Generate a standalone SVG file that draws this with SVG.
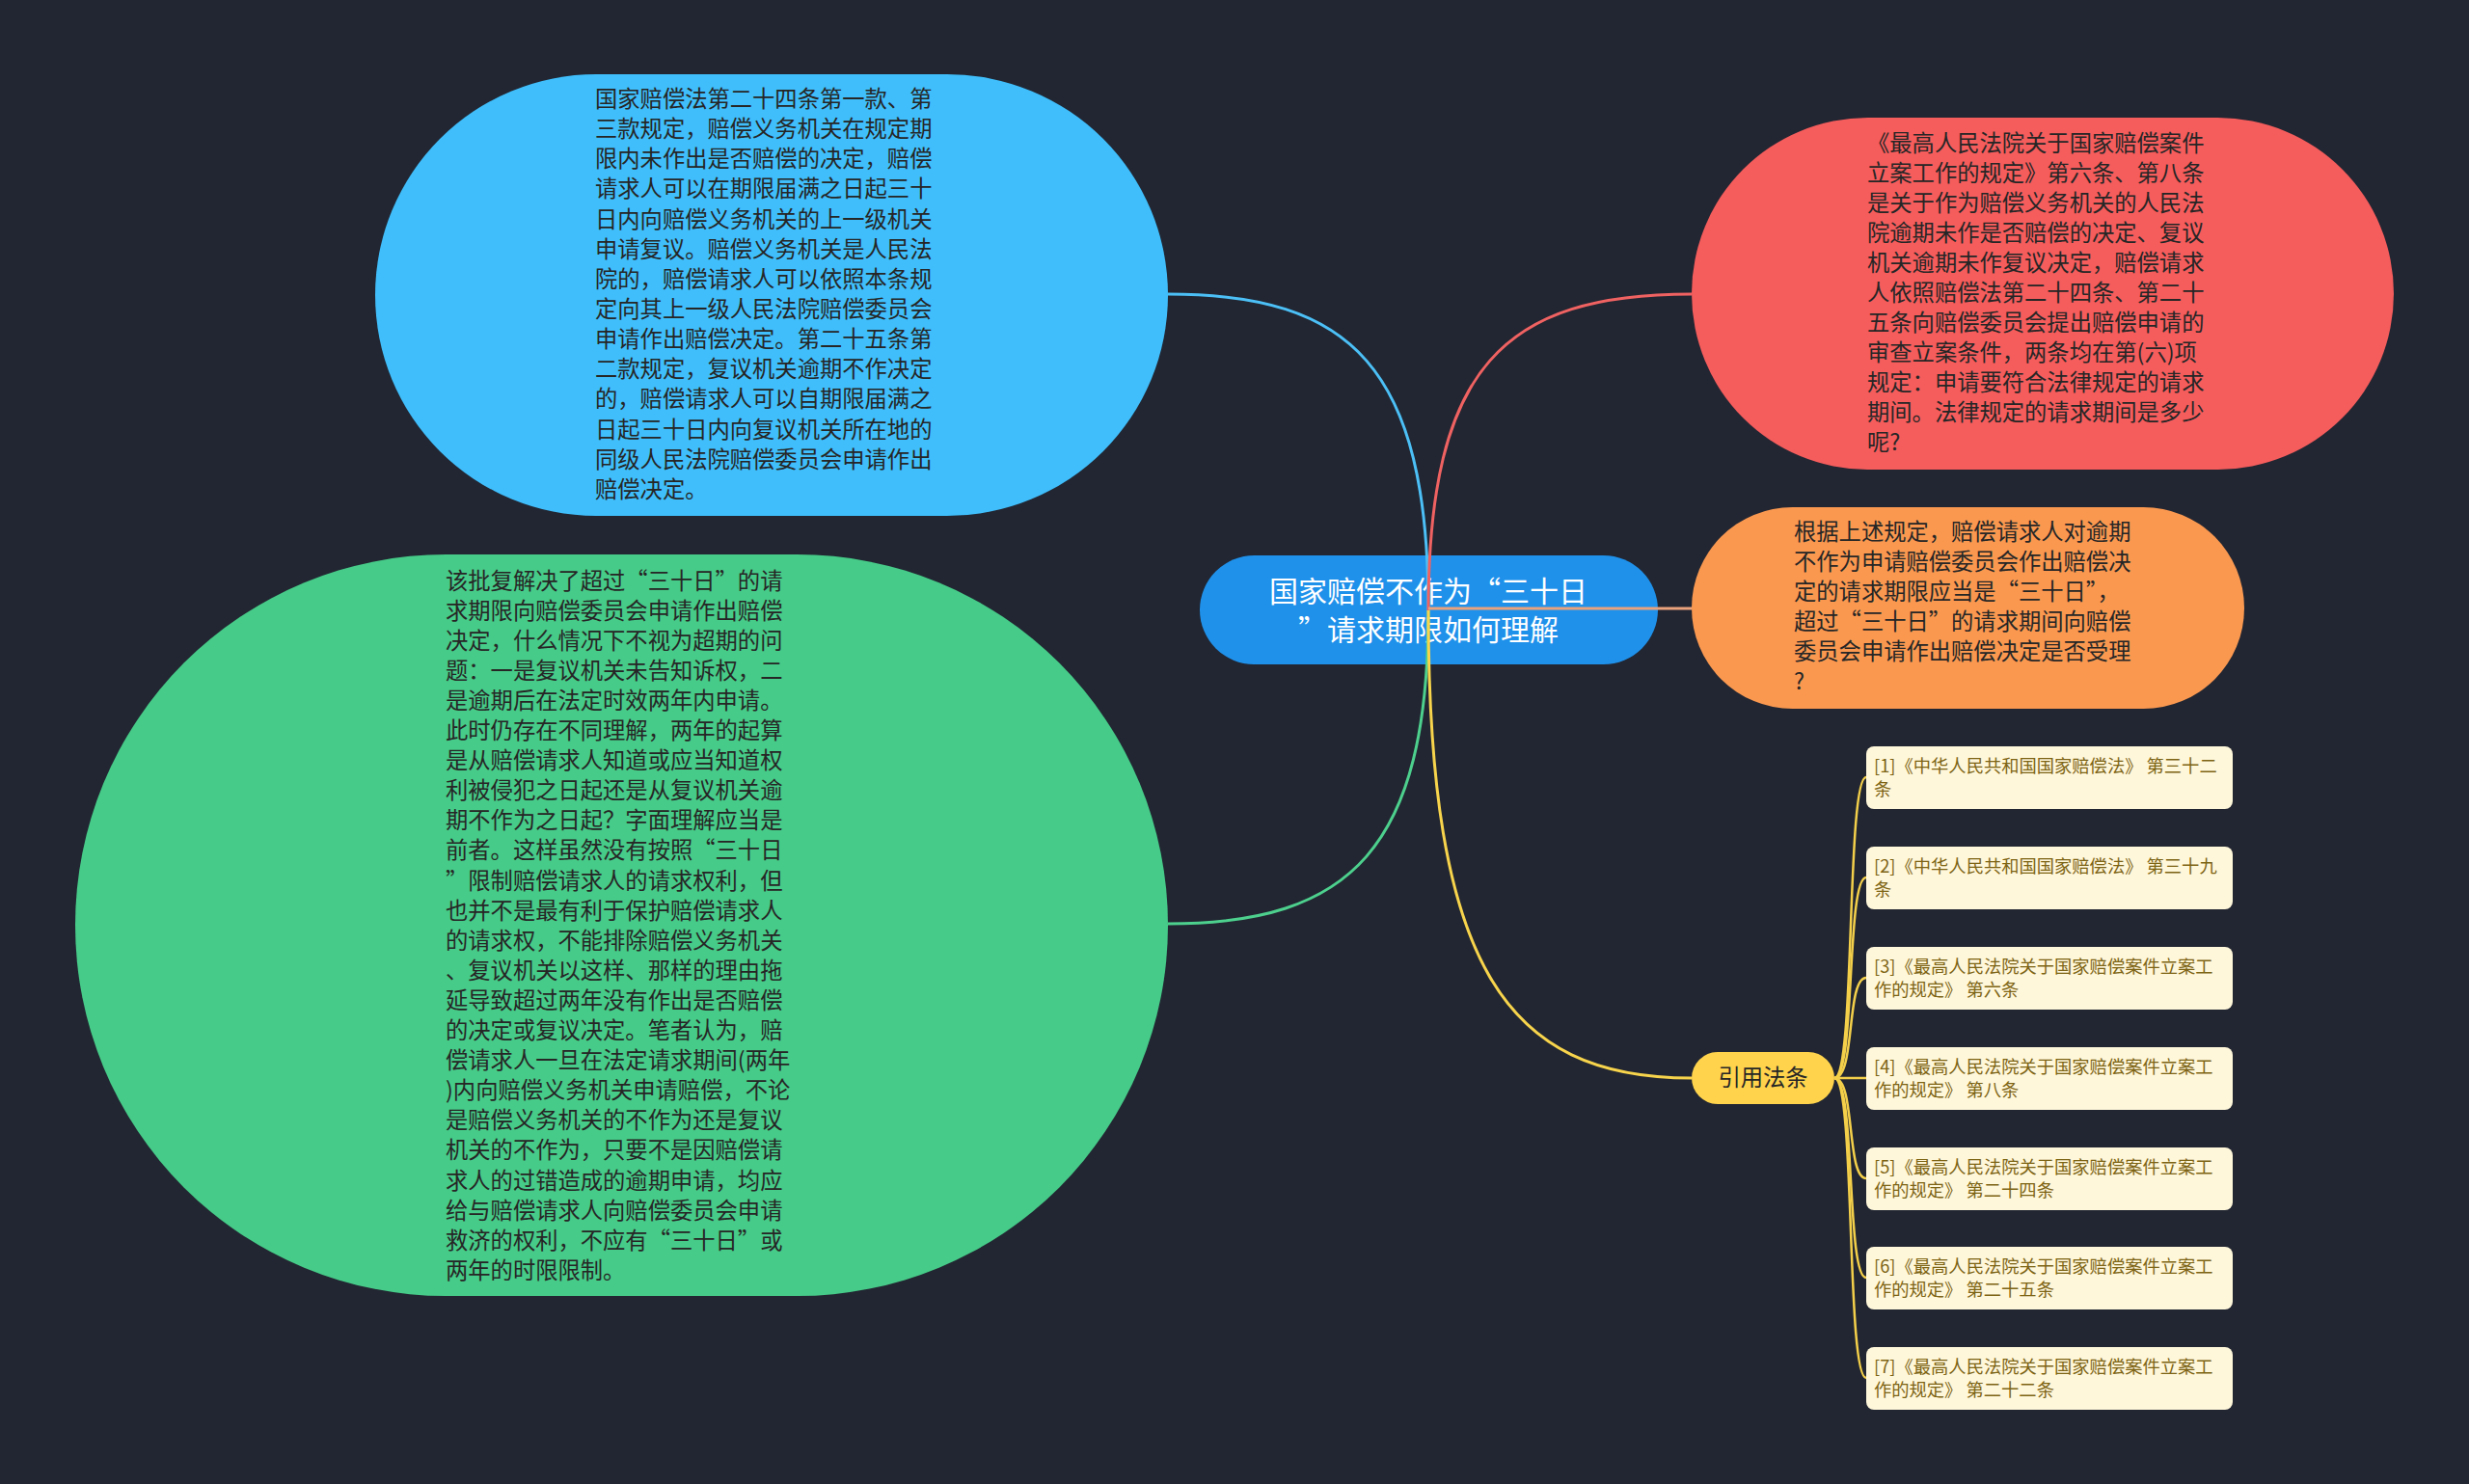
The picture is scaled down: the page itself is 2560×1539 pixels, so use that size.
<svg xmlns="http://www.w3.org/2000/svg" width="2560" height="1539" viewBox="0 0 2560 1539">
<style>
.t{font-family:"Noto Sans CJK SC","Noto Sans",sans-serif;font-size:23.3px;fill:#262626}
.c{font-family:"Noto Sans CJK SC","Noto Sans",sans-serif;font-size:30px;fill:#ffffff;text-anchor:middle}
.r{font-family:"Noto Sans CJK SC","Noto Sans",sans-serif;font-size:18.3px;fill:#7d6414}
.box{fill:#fff7da}
.ln{fill:none;stroke-width:3}
.cl{fill:none;stroke:#f4d04a;stroke-width:2.5}
</style>
<rect width="2560" height="1539" fill="#222632"/>
<g id="node-blue">
<rect x="389" y="77" width="822" height="458" rx="229" fill="#3fbefb"/>
<text class="t"><tspan x="617" y="111">国家赔偿法第二十四条第一款、第</tspan><tspan x="617" dy="31.15">三款规定，赔偿义务机关在规定期</tspan><tspan x="617" dy="31.15">限内未作出是否赔偿的决定，赔偿</tspan><tspan x="617" dy="31.15">请求人可以在期限届满之日起三十</tspan><tspan x="617" dy="31.15">日内向赔偿义务机关的上一级机关</tspan><tspan x="617" dy="31.15">申请复议。赔偿义务机关是人民法</tspan><tspan x="617" dy="31.15">院的，赔偿请求人可以依照本条规</tspan><tspan x="617" dy="31.15">定向其上一级人民法院赔偿委员会</tspan><tspan x="617" dy="31.15">申请作出赔偿决定。第二十五条第</tspan><tspan x="617" dy="31.15">二款规定，复议机关逾期不作决定</tspan><tspan x="617" dy="31.15">的，赔偿请求人可以自期限届满之</tspan><tspan x="617" dy="31.15">日起三十日内向复议机关所在地的</tspan><tspan x="617" dy="31.15">同级人民法院赔偿委员会申请作出</tspan><tspan x="617" dy="31.15">赔偿决定。</tspan></text>
</g>
<g id="node-red">
<rect x="1754" y="122" width="728" height="365" rx="182.5" fill="#f55c5c"/>
<text class="t"><tspan x="1936" y="157">《最高人民法院关于国家赔偿案件</tspan><tspan x="1936" dy="31">立案工作的规定》第六条、第八条</tspan><tspan x="1936" dy="31">是关于作为赔偿义务机关的人民法</tspan><tspan x="1936" dy="31">院逾期未作是否赔偿的决定、复议</tspan><tspan x="1936" dy="31">机关逾期未作复议决定，赔偿请求</tspan><tspan x="1936" dy="31">人依照赔偿法第二十四条、第二十</tspan><tspan x="1936" dy="31">五条向赔偿委员会提出赔偿申请的</tspan><tspan x="1936" dy="31">审查立案条件，两条均在第(六)项</tspan><tspan x="1936" dy="31">规定：申请要符合法律规定的请求</tspan><tspan x="1936" dy="31">期间。法律规定的请求期间是多少</tspan><tspan x="1936" dy="31">呢?</tspan></text>
</g>
<g id="node-orange">
<rect x="1754" y="526" width="573" height="209" rx="104.5" fill="#fa9850"/>
<text class="t"><tspan x="1860" y="560">根据上述规定，赔偿请求人对逾期</tspan><tspan x="1860" dy="31">不作为申请赔偿委员会作出赔偿决</tspan><tspan x="1860" dy="31">定的请求期限应当是“三十日”，</tspan><tspan x="1860" dy="31">超过“三十日”的请求期间向赔偿</tspan><tspan x="1860" dy="31">委员会申请作出赔偿决定是否受理</tspan><tspan x="1860" dy="31">?</tspan></text>
</g>
<g id="node-green">
<rect x="78" y="575" width="1133" height="769" rx="384.5" fill="#46cb88"/>
<text class="t"><tspan x="462" y="610.5">该批复解决了超过“三十日”的请</tspan><tspan x="462" dy="31.1">求期限向赔偿委员会申请作出赔偿</tspan><tspan x="462" dy="31.1">决定，什么情况下不视为超期的问</tspan><tspan x="462" dy="31.1">题：一是复议机关未告知诉权，二</tspan><tspan x="462" dy="31.1">是逾期后在法定时效两年内申请。</tspan><tspan x="462" dy="31.1">此时仍存在不同理解，两年的起算</tspan><tspan x="462" dy="31.1">是从赔偿请求人知道或应当知道权</tspan><tspan x="462" dy="31.1">利被侵犯之日起还是从复议机关逾</tspan><tspan x="462" dy="31.1">期不作为之日起？字面理解应当是</tspan><tspan x="462" dy="31.1">前者。这样虽然没有按照“三十日</tspan><tspan x="462" dy="31.1">”限制赔偿请求人的请求权利，但</tspan><tspan x="462" dy="31.1">也并不是最有利于保护赔偿请求人</tspan><tspan x="462" dy="31.1">的请求权，不能排除赔偿义务机关</tspan><tspan x="462" dy="31.1">、复议机关以这样、那样的理由拖</tspan><tspan x="462" dy="31.1">延导致超过两年没有作出是否赔偿</tspan><tspan x="462" dy="31.1">的决定或复议决定。笔者认为，赔</tspan><tspan x="462" dy="31.1">偿请求人一旦在法定请求期间(两年</tspan><tspan x="462" dy="31.1">)内向赔偿义务机关申请赔偿，不论</tspan><tspan x="462" dy="31.1">是赔偿义务机关的不作为还是复议</tspan><tspan x="462" dy="31.1">机关的不作为，只要不是因赔偿请</tspan><tspan x="462" dy="31.1">求人的过错造成的逾期申请，均应</tspan><tspan x="462" dy="31.1">给与赔偿请求人向赔偿委员会申请</tspan><tspan x="462" dy="31.1">救济的权利，不应有“三十日”或</tspan><tspan x="462" dy="31.1">两年的时限限制。</tspan></text>
</g>
<g id="node-center">
<rect x="1244" y="576" width="475" height="113" rx="56.5" fill="#1f91eb"/>
<text class="c"><tspan x="1481" y="624">国家赔偿不作为“三十日</tspan><tspan x="1481" y="664">”请求期限如何理解</tspan></text>
</g>
<g id="node-cite">
<rect x="1754" y="1091" width="148" height="54" rx="27" fill="#ffd44c"/>
<text class="t" x="1828" y="1126" text-anchor="middle">引用法条</text>
</g>
<g id="ref-1"><rect class="box" x="1935" y="774" width="380" height="65" rx="8"/><text class="r"><tspan x="1943" y="801">[1]《中华人民共和国国家赔偿法》 第三十二</tspan><tspan x="1943" dy="23.5">条</tspan></text></g>
<g id="ref-2"><rect class="box" x="1935" y="878" width="380" height="65" rx="8"/><text class="r"><tspan x="1943" y="905">[2]《中华人民共和国国家赔偿法》 第三十九</tspan><tspan x="1943" dy="23.5">条</tspan></text></g>
<g id="ref-3"><rect class="box" x="1935" y="982" width="380" height="65" rx="8"/><text class="r"><tspan x="1943" y="1009">[3]《最高人民法院关于国家赔偿案件立案工</tspan><tspan x="1943" dy="23.5">作的规定》 第六条</tspan></text></g>
<g id="ref-4"><rect class="box" x="1935" y="1086" width="380" height="65" rx="8"/><text class="r"><tspan x="1943" y="1113">[4]《最高人民法院关于国家赔偿案件立案工</tspan><tspan x="1943" dy="23.5">作的规定》 第八条</tspan></text></g>
<g id="ref-5"><rect class="box" x="1935" y="1190" width="380" height="65" rx="8"/><text class="r"><tspan x="1943" y="1217">[5]《最高人民法院关于国家赔偿案件立案工</tspan><tspan x="1943" dy="23.5">作的规定》 第二十四条</tspan></text></g>
<g id="ref-6"><rect class="box" x="1935" y="1293" width="380" height="65" rx="8"/><text class="r"><tspan x="1943" y="1320">[6]《最高人民法院关于国家赔偿案件立案工</tspan><tspan x="1943" dy="23.5">作的规定》 第二十五条</tspan></text></g>
<g id="ref-7"><rect class="box" x="1935" y="1397" width="380" height="65" rx="8"/><text class="r"><tspan x="1943" y="1424">[7]《最高人民法院关于国家赔偿案件立案工</tspan><tspan x="1943" dy="23.5">作的规定》 第二十二条</tspan></text></g>
<g id="connectors">
<path class="ln" stroke="#4cc0f6" d="M1211 305 C1400 305 1481 380 1481 633"/>
<path class="ln" stroke="#f06262" d="M1754 305 C1560 305 1481 380 1481 633"/>
<path class="ln" stroke="#e9a27c" d="M1481 631 L1754 631"/>
<path class="ln" stroke="#4dd08d" d="M1481 633 C1481 880 1400 958 1211 958"/>
<path class="ln" stroke="#f7d44c" d="M1481 633 C1481 1000 1560 1118 1754 1118"/>
<path class="cl" d="M1902 1118 C1924 1118 1914 806 1935 806"/>
<path class="cl" d="M1902 1118 C1924 1118 1914 910 1935 910"/>
<path class="cl" d="M1902 1118 C1924 1118 1914 1014 1935 1014"/>
<path class="cl" d="M1902 1118 L1935 1118"/>
<path class="cl" d="M1902 1118 C1924 1118 1914 1222 1935 1222"/>
<path class="cl" d="M1902 1118 C1924 1118 1914 1325 1935 1325"/>
<path class="cl" d="M1902 1118 C1924 1118 1914 1429 1935 1429"/>
</g>
</svg>
